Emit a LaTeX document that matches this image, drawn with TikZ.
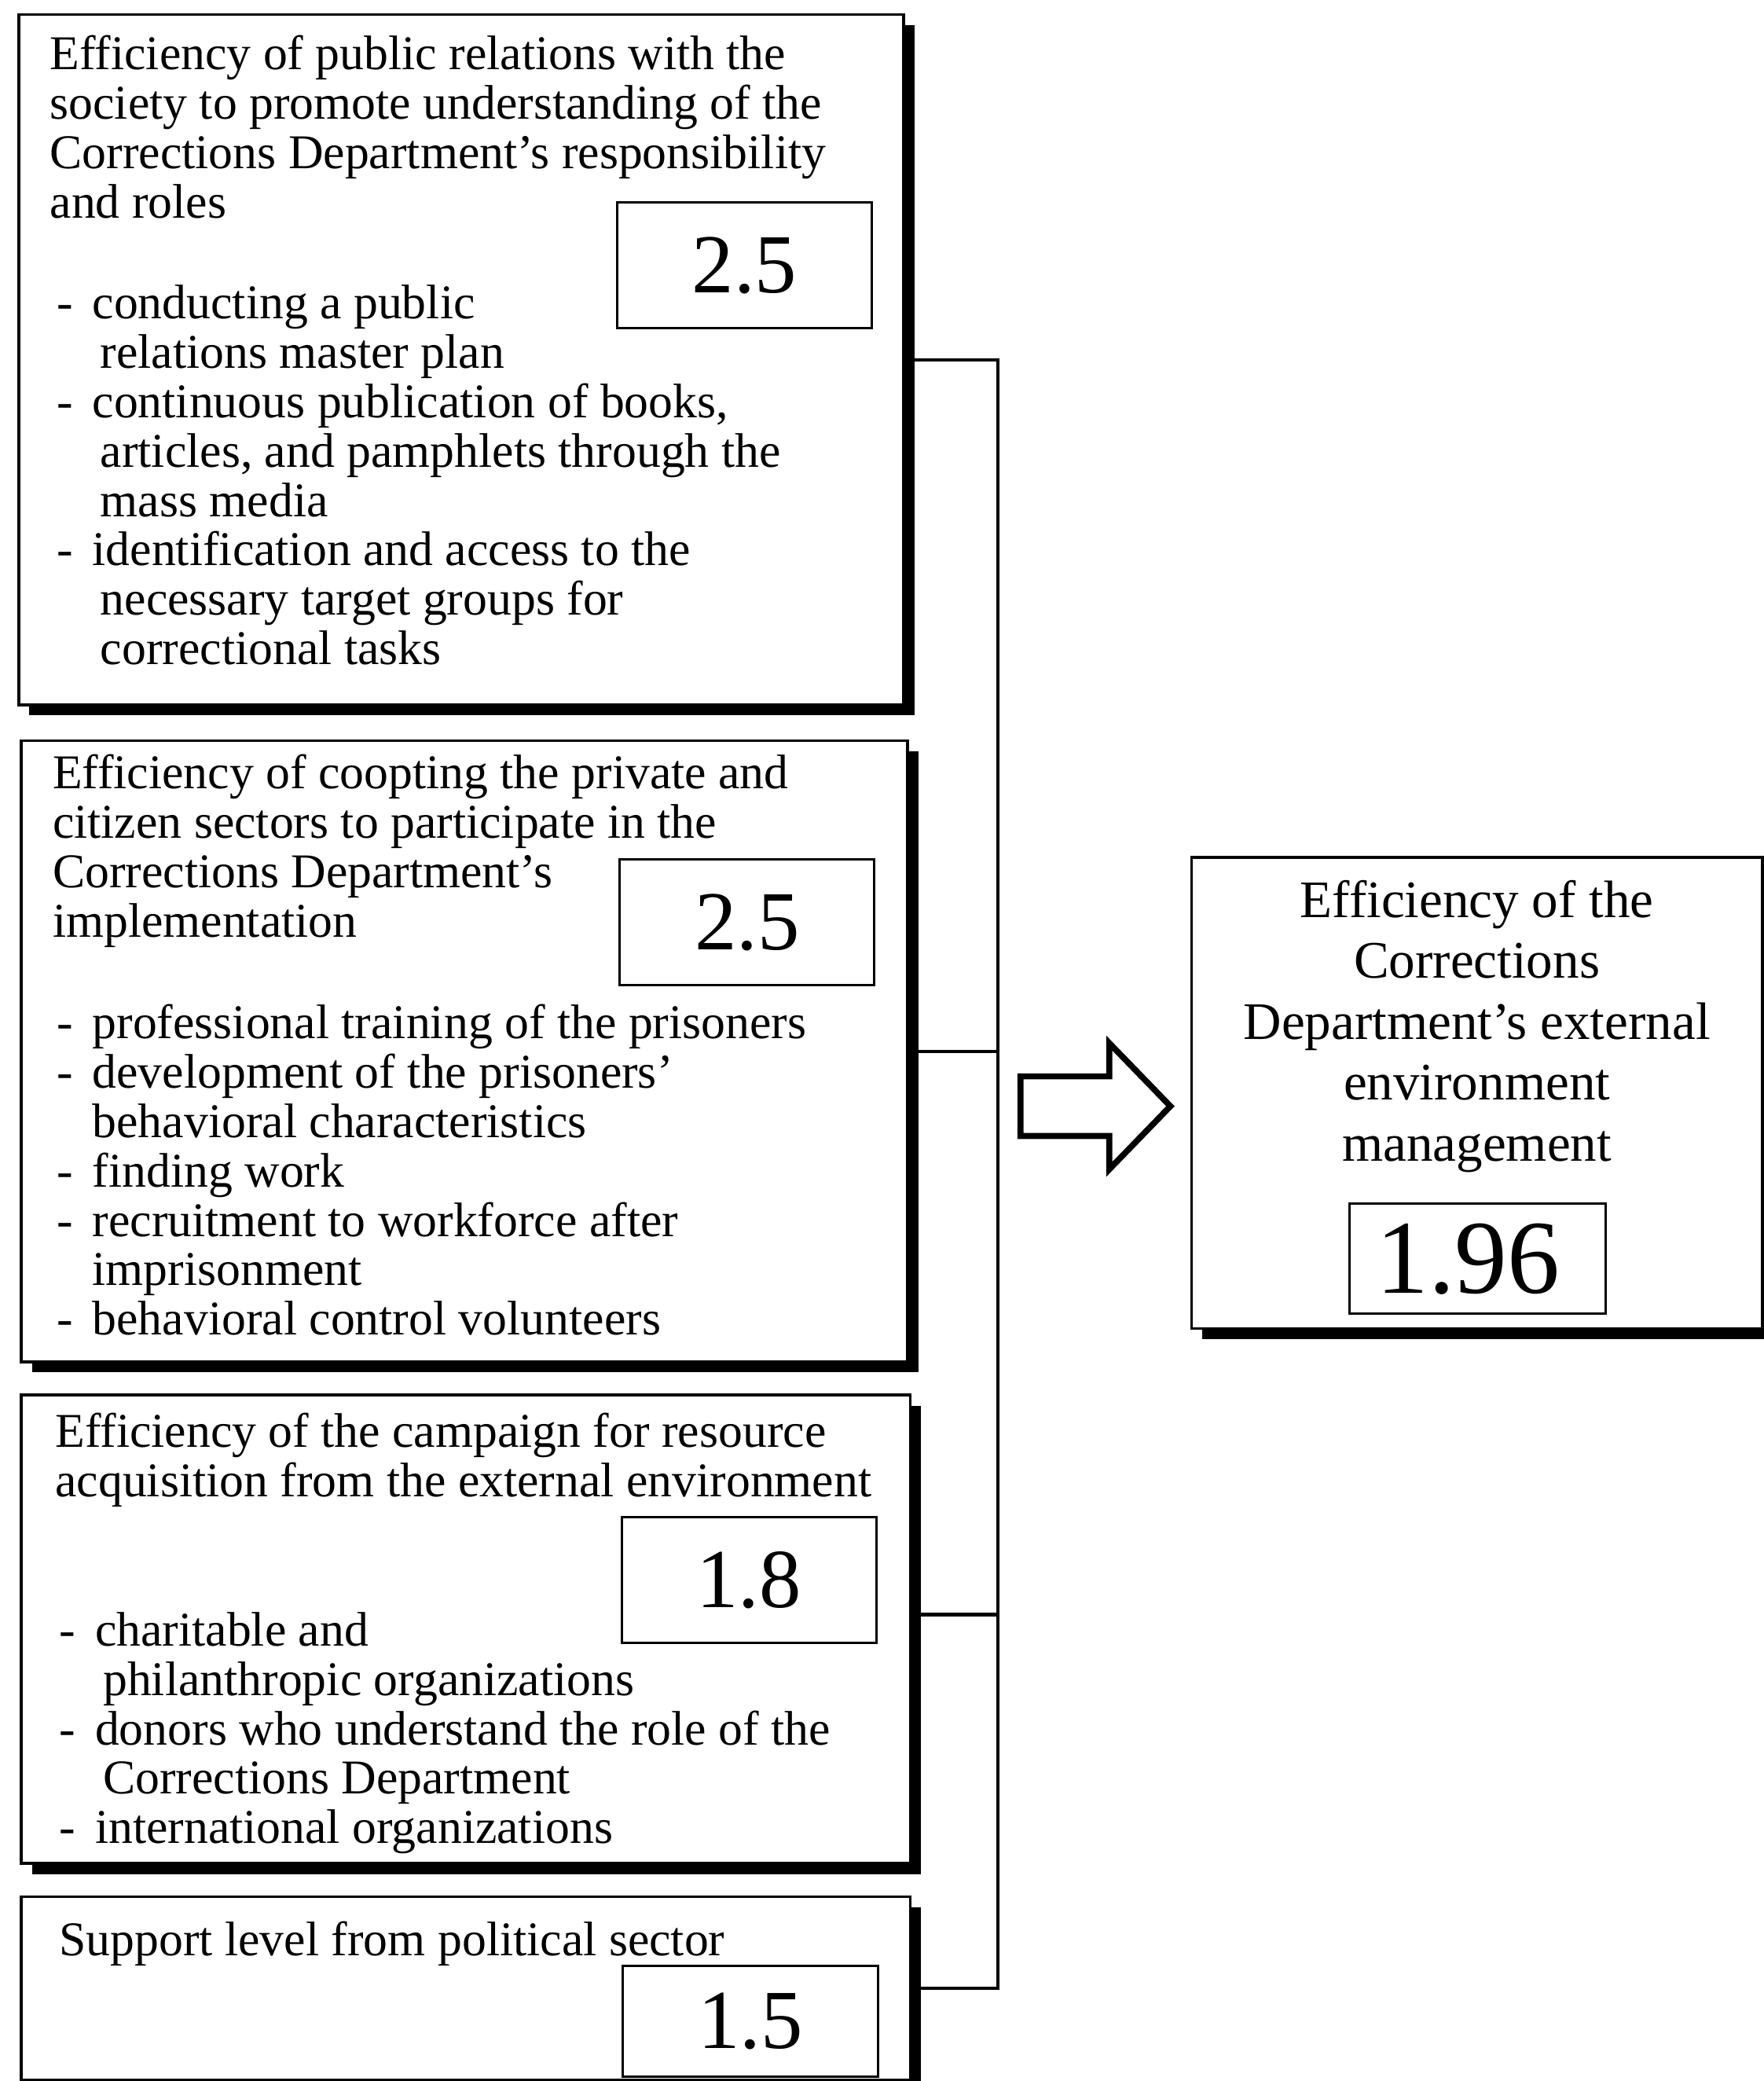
\documentclass[tikz,border=0pt]{standalone}
\usepackage{fontspec}
\setmainfont{Liberation Serif}
\usetikzlibrary{positioning,shadows}
\newcommand{\bul}{\makebox[0.27cm][l]{-}}
\newcommand{\contind}[1][0.33cm]{\hspace*{#1}}

\begin{document}
\begin{tikzpicture}[
	panel/.style={draw, line width=0.6pt, fill=white, anchor=north west, inner sep=0pt,
		drop shadow={shadow xshift=0.08cm, shadow yshift=-0.08cm, fill=black, opacity=1}},
	score/.style={draw, line width=0.5pt, minimum width=1.92cm, minimum height=0.95cm,
		inner sep=0pt, font=\fontsize{18}{20}\selectfont},
	txt/.style={anchor=north west, inner sep=0pt, align=left,
		font=\fontsize{10.4}{10.6}\selectfont},
	link/.style={line width=0.7pt},
	bigarrow/.style={line width=1.3pt, line join=miter}
]
	\useasboundingbox (0,0) rectangle (13.29,-15.68);

	% Four factor panels on the left
	\node[panel, minimum width=6.67cm, minimum height=5.20cm] (pubrel) at (0.13,-0.10) {};
	\node[panel, minimum width=6.68cm, minimum height=4.68cm] (coopt)  at (0.15,-5.57) {};
	\node[panel, minimum width=6.70cm, minimum height=3.53cm] (resrc)  at (0.15,-10.50) {};
	\node[panel, minimum width=6.70cm, minimum height=1.38cm] (polit)  at (0.15,-14.28) {};

	% Result panel on the right
	\node[panel, minimum width=4.30cm, minimum height=3.55cm] (extmgmt) at (8.97,-6.45) {};

	% Panel 1: public relations
	\node[txt] (pubtitle) at (0.37,-0.26)
		{Efficiency of public relations with the\\
		society to promote understanding of the\\
		Corrections Department's responsibility\\
		and roles};
	\node[txt] (publist) at (0.42,-2.14)
		{\bul conducting a public\\
		\contind relations master plan\\
		\bul continuous publication of books,\\
		\contind articles, and pamphlets through the\\
		\contind mass media\\
		\bul identification and access to the\\
		\contind necessary target groups for\\
		\contind correctional tasks};
	\node[score] (pubval) at (5.61,-2.00) {2.5};

	% Panel 2: private and citizen sectors
	\node[txt] (cooptitle) at (0.39,-5.68)
		{Efficiency of coopting the private and\\
		citizen sectors to participate in the\\
		Corrections Department's\\
		implementation};
	\node[txt] (cooplist) at (0.42,-7.56)
		{\bul professional training of the prisoners\\
		\bul development of the prisoners'\\
		\contind[0.27cm]behavioral characteristics\\
		\bul finding work\\
		\bul recruitment to workforce after\\
		\contind[0.27cm]imprisonment\\
		\bul behavioral control volunteers};
	\node[score] (coopval) at (5.63,-6.95) {2.5};

	% Panel 3: resource acquisition
	\node[txt] (restitle) at (0.41,-10.64)
		{Efficiency of the campaign for resource\\
		acquisition from the external environment};
	\node[txt] (reslist) at (0.44,-12.14)
		{\bul charitable and\\
		\contind philanthropic organizations\\
		\bul donors who understand the role of the\\
		\contind Corrections Department\\
		\bul international organizations};
	\node[score] (resval) at (5.645,-11.905) {1.8};

	% Panel 4: political support
	\node[txt] (poltitle) at (0.44,-14.47) {Support level from political sector};
	\node[score, minimum height=0.84cm] (polval) at (5.655,-15.23) {1.5};

	% Result text and overall score
	\node[txt, anchor=north, align=center, font=\fontsize{11.3}{13.05}\selectfont] (exttitle)
		at (11.13,-6.625)
		{Efficiency of the\\ Corrections\\ Department's external\\ environment\\ management};
	\node[score, minimum width=1.93cm, minimum height=0.83cm,
		font=\fontsize{22.5}{25}\selectfont] (extval) at (11.135,-9.485) {1.96\hspace*{0.14cm}};

	% Bracket joining the panels
	\coordinate (bus) at (7.52,0);
	\draw[link] (pubrel.east) -- (pubrel.east -| bus) -- (polit.east -| bus) -- (polit.east);
	\draw[link] (coopt.east) -- (coopt.east -| bus);
	\draw[link] ([yshift=0.11cm]resrc.east) -- ([yshift=0.11cm]resrc.east -| bus);

	% Hollow block arrow
	\coordinate (arrtail) at (7.69,-8.335);
	\draw[bigarrow] (arrtail) ++(0,0.225) -- ++(0.67,0) -- ++(0,0.25) -- ++(0.46,-0.475)
		-- ++(-0.46,-0.475) -- ++(0,0.25) -- ++(-0.67,0) -- cycle;
\end{tikzpicture}
\end{document}
